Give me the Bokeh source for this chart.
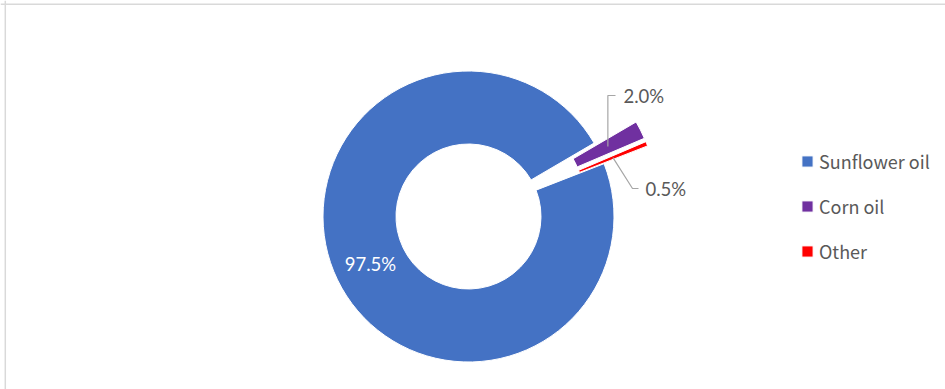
import math
from bokeh.plotting import figure
from bokeh.models import ColumnDataSource, Range1d, Span, Legend, LegendItem
from bokeh.embed import file_html
from bokeh.resources import INLINE
from bokeh.core.properties import value

# ---- data ----
categories = ["Sunflower oil", "Corn oil", "Other"]
shares = [97.5, 2.0, 0.5]
share_labels = ["97.5%", "2.0%", "0.5%"]
colors = ["#4472C4", "#7030A0", "#FF0000"]

# ---- layout (pixels; y measured from the top of the picture) ----
W, H = 945, 389
CX, CY = 468, H - 216
R_IN, R_OUT = 72.5, 145.5
FIRST_ANGLE = 21.3          # math degrees where the first slice starts (slices run clockwise)
EXPLODE = 47                # pixels the small slices are pulled out
EXPLODED = {"Corn oil", "Other"}
OUTSIDE_LABEL_POS = {"Corn oil": (623, 95), "Other": (645, 188)}
TEXT_COLOR = "#595959"

p = figure(width=W, height=H, output_backend="svg", toolbar_location=None,
           x_range=Range1d(0, W), y_range=Range1d(0, H),
           x_axis_type=None, y_axis_type=None, min_border=0)
p.grid.visible = False
p.outline_line_color = None
p.background_fill_color = "white"
p.border_fill_color = "white"

# chart border (top and left visible)
p.add_layout(Span(location=H - 3.7, dimension="width", line_color="#d9d9d9", line_width=1.5))
p.add_layout(Span(location=4.8, dimension="height", line_color="#d9d9d9", line_width=1.5))

xs, ys, a0, a1, mids = [], [], [], [], []
cum = 0.0
for cat, v in zip(categories, shares):
    s = FIRST_ANGLE - cum * 3.6
    e = s - v * 3.6
    bis = math.radians((s + e) / 2)
    off = EXPLODE if cat in EXPLODED else 0
    cx = CX + off * math.cos(bis)
    cy = CY + off * math.sin(bis)
    xs.append(cx); ys.append(cy)
    a0.append(math.radians(e)); a1.append(math.radians(s))
    rm = (R_IN + R_OUT) / 2
    mids.append((cx + rm * math.cos(bis), cy + rm * math.sin(bis)))
    cum += v

src = ColumnDataSource(dict(x=xs, y=ys, start=a0, end=a1, color=colors, cat=categories))
r = p.annular_wedge(x="x", y="y", inner_radius=R_IN, outer_radius=R_OUT,
                    start_angle="start", end_angle="end", source=src,
                    fill_color="color", line_color="white", line_width=1.0)

in_x, in_y, in_t = [], [], []
out_x, out_y, out_t = [], [], []
lead_xs, lead_ys = [], []
for i, cat in enumerate(categories):
    mx, my = mids[i]
    if cat in OUTSIDE_LABEL_POS:
        lx, ly = OUTSIDE_LABEL_POS[cat]
        ly = H - ly
        out_x.append(lx); out_y.append(ly); out_t.append(share_labels[i])
        if my < ly:  # label above: vertical then horizontal
            lead_xs.append([mx, mx, lx - 8]); lead_ys.append([my, ly, ly])
        else:
            lead_xs.append([mx, lx - 13, lx - 7]); lead_ys.append([my, ly, ly])
    else:
        in_x.append(mx); in_y.append(my); in_t.append(share_labels[i])

p.multi_line(xs=lead_xs, ys=lead_ys, line_color="#a6a6a6", line_width=1.2)
p.text(x=in_x, y=in_y, text=in_t, text_color="white", text_font=value("Lato"),
       text_font_size="18.5px", text_align="center", text_baseline="middle")
p.text(x=out_x, y=out_y, text=out_t, text_color=TEXT_COLOR, text_font=value("Lato"),
       text_font_size="18.5px", text_align="left", text_baseline="middle")

legend = Legend(items=[LegendItem(label=c, renderers=[r], index=i) for i, c in enumerate(categories)],
                location=(800, 125), orientation="vertical",
                glyph_width=14, glyph_height=14, label_standoff=5,
                label_height=20, spacing=19, padding=0, margin=0,
                label_text_font="Noto Sans CJK JP", label_text_font_size="18px",
                label_text_color=TEXT_COLOR, border_line_color=None,
                background_fill_alpha=0)
p.add_layout(legend)

open("out.html", "w").write(file_html(p, INLINE))
